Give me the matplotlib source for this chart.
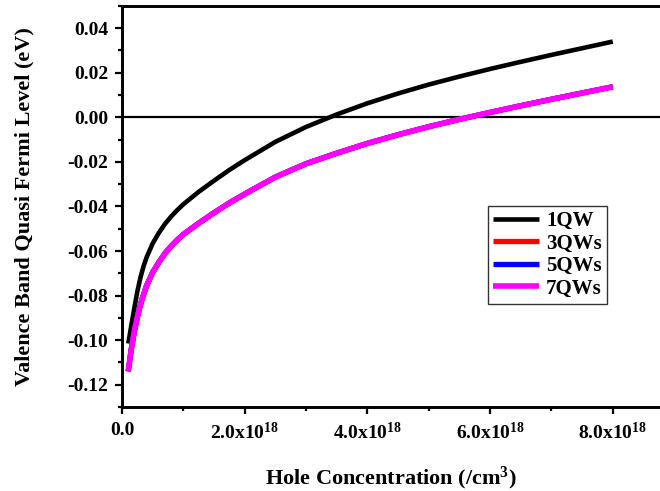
import matplotlib
matplotlib.use("Agg")
import matplotlib.pyplot as plt
from matplotlib.ticker import MultipleLocator, FixedLocator, FuncFormatter

plt.rcParams['font.family'] = ['Liberation Serif', 'DejaVu Serif']
plt.rcParams['font.weight'] = 'bold'
plt.rcParams['mathtext.fontset'] = 'custom'
plt.rcParams['mathtext.rm'] = 'Liberation Serif:bold'
plt.rcParams['mathtext.bf'] = 'Liberation Serif:bold'
plt.rcParams['mathtext.default'] = 'bf'

# Hole concentration (units of 1e18 /cm^3)
conc = [0.10, 0.15, 0.20, 0.25, 0.30, 0.35, 0.40, 0.50, 0.60, 0.70, 0.80, 0.90, 1.00,
        1.25, 1.50, 1.75, 2.00, 2.50, 3.00, 3.50, 4.00, 4.50, 5.00, 5.50, 6.00, 6.50,
        7.00, 7.50, 8.00]
qw1 = [-0.1015, -0.0935, -0.0855, -0.0780, -0.0718, -0.0668, -0.0628, -0.0565, -0.0518,
       -0.0478, -0.0445, -0.0416, -0.0390, -0.0334, -0.0284, -0.0236, -0.0192, -0.0110,
       -0.0043, 0.0013, 0.0063, 0.0107, 0.0147, 0.0183, 0.0217, 0.0249, 0.0280, 0.0310,
       0.0340]
qw3 = [-0.1140, -0.1040, -0.0960, -0.0895, -0.0840, -0.0795, -0.0755, -0.0695, -0.0650,
       -0.0610, -0.0578, -0.0550, -0.0525, -0.0475, -0.0428, -0.0384, -0.0344, -0.0268,
       -0.0208, -0.0161, -0.0117, -0.0078, -0.0042, -0.0009, 0.0022, 0.0052, 0.0081,
       0.0109, 0.0137]
qw5 = list(qw3)
qw7 = list(qw3)

series = [("1QW", qw1, "black", 3.3), ("3QWs", qw3, "red", 3.8),
          ("5QWs", qw5, "blue", 3.8), ("7QWs", qw7, "magenta", 4.0)]

xticks = [0.0, 2.0, 4.0, 6.0, 8.0]
xticklabels = ["0.0", "2.0x10$^{18}$", "4.0x10$^{18}$", "6.0x10$^{18}$", "8.0x10$^{18}$"]

fig = plt.figure(figsize=(6.6, 4.91), dpi=100)
ax = fig.add_axes([0.185, 0.171, 0.815, 0.817])

x = [c * 1e18 for c in conc]
for name, vals, col, lw in series:
    ax.plot(x, vals, color=col, lw=lw, label=name, solid_capstyle='butt',
            solid_joinstyle='round')

ax.axhline(0, color='black', lw=1.6, zorder=1)

ax.set_xlim(0, 8.77e18)
ax.set_ylim(-0.13, 0.05)
ax.xaxis.set_major_locator(FixedLocator([t * 1e18 for t in xticks]))
ax.set_xticklabels(xticklabels)
ax.xaxis.set_minor_locator(MultipleLocator(1e18))
ax.yaxis.set_major_locator(MultipleLocator(0.02))
ax.yaxis.set_minor_locator(MultipleLocator(0.01))
ax.yaxis.set_major_formatter(FuncFormatter(lambda v, p: f"{v:.2f}".replace("-0.00", "0.00")))

for s in ['left', 'bottom', 'top']:
    ax.spines[s].set_linewidth(2.1)
ax.spines['right'].set_visible(False)

ax.tick_params(which='major', direction='out', length=5, width=1.6, labelsize=14, pad=5)
ax.tick_params(which='minor', direction='out', length=3, width=1.6)
ax.tick_params(axis='x', which='major', pad=6)
for lab in ax.get_xticklabels() + ax.get_yticklabels():
    lab.set_fontweight('bold')

ax.set_xlabel("Hole Concentration (/cm$^{3}$)", fontsize=16, fontweight='bold', labelpad=15)
ax.set_ylabel("Valence Band Quasi Fermi Level (eV)", fontsize=16, fontweight='bold', labelpad=24)

leg = ax.legend(loc='upper left', bbox_to_anchor=(0.680, 0.501), frameon=True, fancybox=False,
                edgecolor='black', fontsize=15, handlelength=2.2, handletextpad=0.35,
                labelspacing=0.12, borderpad=0.25, borderaxespad=0)
leg.get_frame().set_linewidth(1.0)
for t in leg.get_texts():
    t.set_fontweight('bold')

fig.savefig("out.png", dpi=100)
